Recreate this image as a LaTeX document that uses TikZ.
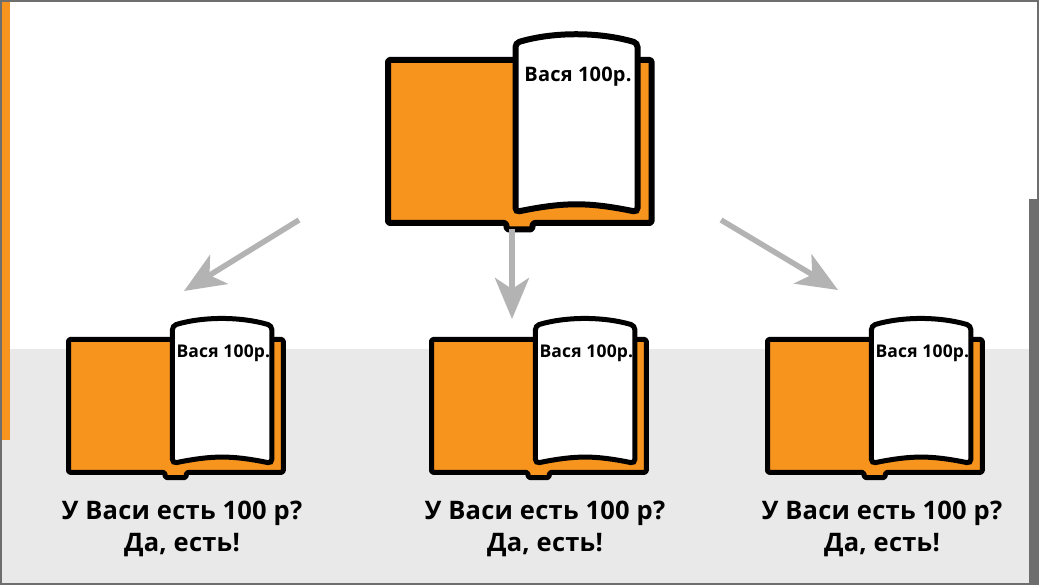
\documentclass[tikz,border=0pt]{standalone}
\usepackage{fontspec}
\setmainfont{Open Sans}[LetterSpace=1]
\usetikzlibrary{arrows.meta}
\definecolor{bookorange}{HTML}{F7941E}
\definecolor{panelgray}{HTML}{E9E9E9}
\definecolor{framegray}{HTML}{6E6E6E}
\definecolor{arrowgray}{HTML}{B3B3B3}
\tikzset{
	pics/openbook/.style n args={3}{code={
		% cover with the notch of the spine
		\draw[fill=bookorange,line width=#1,line join=round,rounded corners=1.5pt]
			(0,0)--(263.5,0)--(263.5,163)--(145,163)--(144,169.5)--(119,169.5)--(118,163)--(0,163)--cycle;
		% page
		\draw[fill=white,line width=#1,rounded corners=4pt]
			(127.5,-17) .. controls (165,-28.3) and (211,-28.3) .. (249.5,-17)
			--(249.5,152) .. controls (200,142) and (177,142) .. (127.5,152)--cycle;
		\node[font=\bfseries\fontsize{#2}{#2}\selectfont] (#3) at (190,17) {Вася 100р.};
	}},
	gaparrow/.style={arrowgray,line width=5.5pt,-{Stealth[length=41pt,width=34pt,inset=11pt]}},
	caption/.style={font=\bfseries\fontsize{25.5}{32}\selectfont,align=center}
}
\begin{document}
\begin{tikzpicture}[x=1pt,y=-1pt]
	\useasboundingbox (0,0) rectangle (1039,585);
	% background
	\fill[white] (0,0) rectangle (1039,585);
	\fill[panelgray] (0,349) rectangle (1039,585);
	\fill[framegray] (1029,199) rectangle (1039,585);
	\fill[bookorange] (2,0) rectangle (10,440);
	\draw[framegray,line width=2pt] (1,1) rectangle (1038,584);
	% books
	\pic at (388,60) {openbook={6pt}{20}{labelTop}};
	\pic[scale=0.815] at (68.5,339.5) {openbook={5pt}{17.5}{labelLeft}};
	\pic[scale=0.815] at (431.5,339.5) {openbook={5pt}{17.5}{labelMid}};
	\pic[scale=0.815] at (767.5,339.5) {openbook={5pt}{17.5}{labelRight}};
	% arrows
	\coordinate (startLeft) at (299,220);
	\coordinate (endLeft) at (184,291);
	\coordinate (startMid) at (512,229);
	\coordinate (endMid) at (512,319);
	\coordinate (startRight) at (721,220);
	\coordinate (endRight) at (838,290);
	\draw[gaparrow] (startLeft)--(endLeft);
	\draw[gaparrow] (startMid)--(endMid);
	\draw[gaparrow] (startRight)--(endRight);
	% captions
	\node[caption] (captionLeft) at (182,529) {У Васи есть 100 р?\\Да, есть!};
	\node[caption] (captionMid) at (545,529) {У Васи есть 100 р?\\Да, есть!};
	\node[caption] (captionRight) at (882,529) {У Васи есть 100 р?\\Да, есть!};
\end{tikzpicture}
\end{document}
